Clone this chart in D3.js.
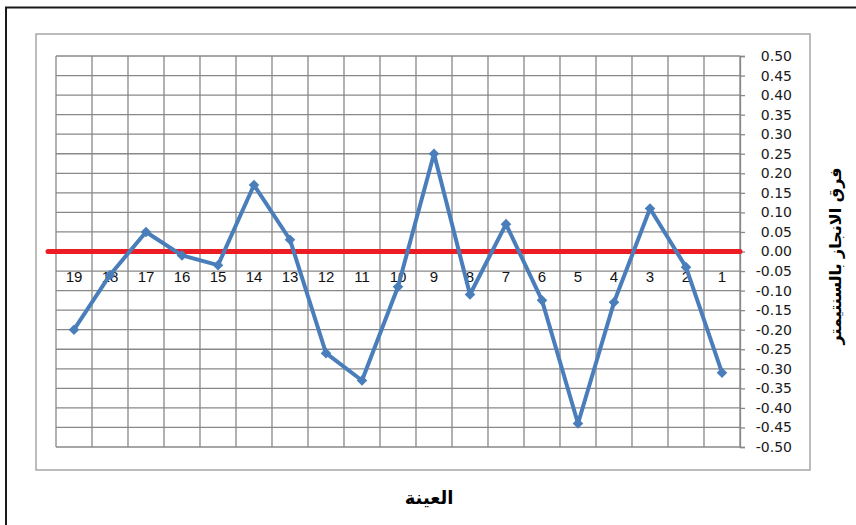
<!DOCTYPE html>
<html>
<head>
<meta charset="utf-8">
<script src="https://cdn.jsdelivr.net/npm/d3@7"></script>
<style>
  body { margin: 0; background: #fff; }
  svg { display: block; }
</style>
</head>
<body>
<div class="chart"></div>
<script>
// sample numbers, shown right-to-left (19 on the left, 1 on the right)
const samples = ['19', '18', '17', '16', '15', '14', '13', '12', '11', '10', '9', '8', '7', '6', '5', '4', '3', '2', '1'];
// difference in achievement (cm)
const diffs = [-0.20, -0.06, 0.05, -0.01, -0.035, 0.17, 0.03, -0.26, -0.33, -0.09, 0.25, -0.11, 0.07, -0.125, -0.44, -0.13, 0.11, -0.04, -0.31];
const yTicks = d3.range(-10, 11).map(i => i * 0.05);

const xTitle = 'العينة';
const yTitle = 'فرق الانجاز بالسنتيمتر';

const svgWidth = 856, svgHeight = 525;
const plot = { left: 56, right: 740, top: 56, bottom: 447 };

const svg = d3.select(".chart")
    .append("svg")
    .attr("width", svgWidth)
    .attr("height", svgHeight);

// outer black frame (runs off the right and bottom edges)
svg.append("rect")
    .attr("x", 6).attr("y", 7.5)
    .attr("width", 900).attr("height", 600)
    .attr("fill", "none")
    .attr("stroke", "#1a1a1a")
    .attr("stroke-width", 2);

// grey plot-area frame
svg.append("rect")
    .attr("x", 36).attr("y", 34)
    .attr("width", 774).attr("height", 436)
    .attr("fill", "none")
    .attr("stroke", "#a6a6a6")
    .attr("stroke-width", 1.5);

const x = d3.scaleBand()
    .domain(samples)
    .range([plot.left, plot.right]);

const y = d3.scaleLinear()
    .domain([-0.5, 0.5])
    .range([plot.bottom, plot.top]);

const grid = svg.append("g").attr("stroke", "#888").attr("stroke-width", 1.3);

// horizontal grid
grid.selectAll("line.h")
    .data(yTicks)
    .enter()
    .append("line")
    .attr("x1", plot.left).attr("x2", plot.right)
    .attr("y1", d => y(d)).attr("y2", d => y(d));

// vertical grid on category boundaries
const bounds = samples.map(s => x(s)).concat([x.range()[1]]);
grid.selectAll("line.v")
    .data(bounds)
    .enter()
    .append("line")
    .attr("x1", d => d).attr("x2", d => d)
    .attr("y1", plot.top).attr("y2", plot.bottom);

// value axis on the right
const rightAxis = d3.axisRight(y)
    .tickValues(yTicks)
    .tickSize(5)
    .tickFormat(d => d.toFixed(2));

const yAxis = svg.append("g")
    .attr("transform", `translate(${plot.right}, 0)`)
    .call(rightAxis);

yAxis.select(".domain").attr("stroke", "#888").attr("stroke-width", 1.3);
yAxis.selectAll(".tick line").attr("stroke", "#888").attr("stroke-width", 1.3);
yAxis.selectAll(".tick text")
    .attr("x", 52)
    .attr("text-anchor", "end")
    .attr("fill", "#1a1a1a")
    .style("font-family", "'DejaVu Sans', sans-serif")
    .style("font-size", "14px");

// category labels just under the zero line
svg.append("g").selectAll("text")
    .data(samples)
    .enter()
    .append("text")
    .attr("x", d => x(d) + x.bandwidth() / 2)
    .attr("y", y(0) + 30)
    .attr("text-anchor", "middle")
    .attr("fill", "#111")
    .style("font-family", "'Liberation Sans', Arial, sans-serif")
    .style("font-size", "15px")
    .text(d => d);

// red zero line
svg.append("line")
    .attr("x1", plot.left - 8).attr("x2", plot.right)
    .attr("y1", y(0)).attr("y2", y(0))
    .attr("stroke", "#ec1c24")
    .attr("stroke-width", 5)
    .attr("stroke-linecap", "round");

// data line
const pts = samples.map((s, i) => ({ s: s, v: diffs[i] }));
const line = d3.line()
    .x(d => x(d.s) + x.bandwidth() / 2)
    .y(d => y(d.v));

svg.append("path")
    .datum(pts)
    .attr("d", line)
    .attr("fill", "none")
    .attr("stroke", "#4a7ebb")
    .attr("stroke-width", 4)
    .attr("stroke-linejoin", "round");

// square markers turned 45deg (excel diamonds)
svg.append("g").selectAll("path")
    .data(pts)
    .enter()
    .append("path")
    .attr("d", d3.symbol().type(d3.symbolSquare).size(56))
    .attr("transform", d => `translate(${x(d.s) + x.bandwidth() / 2}, ${y(d.v)}) rotate(45)`)
    .attr("fill", "#4a7ebb");

// axis titles
svg.append("text")
    .attr("x", 429).attr("y", 504)
    .attr("text-anchor", "middle")
    .attr("direction", "rtl")
    .style("font-family", "'DejaVu Sans', sans-serif")
    .style("font-weight", "bold")
    .style("font-size", "18px")
    .text(xTitle);

svg.append("text")
    .attr("transform", "translate(841, 256) rotate(-90)")
    .attr("text-anchor", "middle")
    .attr("direction", "rtl")
    .style("font-family", "'DejaVu Sans', sans-serif")
    .style("font-weight", "bold")
    .style("font-size", "16px")
    .text(yTitle);
</script>
</body>
</html>
